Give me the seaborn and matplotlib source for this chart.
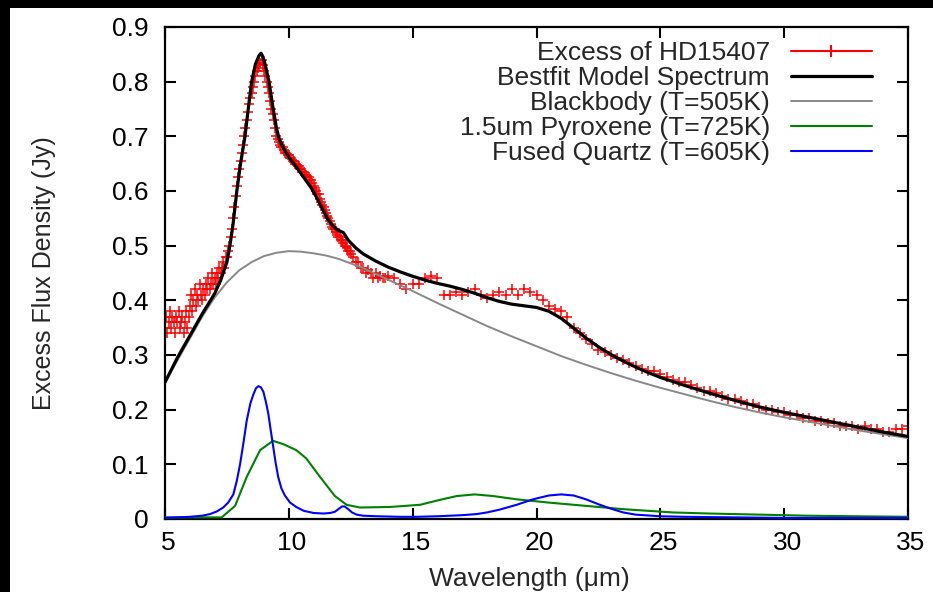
import matplotlib
matplotlib.use("Agg")
import matplotlib.pyplot as plt
from matplotlib.lines import Line2D
from matplotlib.patches import Rectangle
from matplotlib.transforms import ScaledTranslation
import seaborn as sns
import pandas as pd

# ---------------- data ----------------
obs_wl = [5.00, 5.05, 5.10, 5.15, 5.20, 5.25, 5.30, 5.35, 5.40, 5.45, 5.50, 5.55, 5.60, 5.65, 5.70,
          5.75, 5.80, 5.85, 5.90, 5.95, 6.00, 6.05, 6.10, 6.15, 6.20, 6.25, 6.30, 6.35, 6.40, 6.45,
          6.50, 6.55, 6.60, 6.65, 6.70, 6.75, 6.80, 6.85, 6.90, 6.95, 7.00, 7.05, 7.10, 7.15, 7.20,
          7.25, 7.30, 7.35, 7.40, 7.45, 7.50,
          7.6, 7.7, 7.8, 7.9, 8.0, 8.1, 8.2, 8.3, 8.4, 8.5, 8.6, 8.7, 8.8, 8.9, 9.0, 9.1, 9.2, 9.3,
          9.4, 9.5, 9.6, 9.7, 9.8, 9.9, 10.0, 10.1, 10.2, 10.3, 10.4, 10.5, 10.6, 10.7, 10.8, 10.9,
          11.0, 11.1, 11.2, 11.3, 11.4, 11.5, 11.6, 11.7, 11.8, 11.9, 12.0, 12.1, 12.2, 12.3, 12.4,
          12.5, 12.6, 12.7, 12.8, 12.9, 13.0, 13.1, 13.2, 13.3, 13.4, 13.5, 13.6, 13.7, 13.8, 13.9, 14.0,
          14.25, 14.5, 14.75, 15.0, 15.25, 15.5, 15.75, 16.0, 16.25, 16.5, 16.75, 17.0, 17.25, 17.5,
          17.75, 18.0, 18.25, 18.5, 18.75, 19.0, 19.25, 19.5, 19.75, 20.0, 20.25, 20.5, 20.75, 21.0,
          21.25, 21.5, 21.75, 22.0, 22.25, 22.5, 22.75, 23.0, 23.25, 23.5, 23.75, 24.0, 24.25, 24.5,
          24.75, 25.0, 25.25, 25.5, 25.75, 26.0, 26.25, 26.5, 26.75, 27.0, 27.25, 27.5, 27.75, 28.0,
          28.25, 28.5, 28.75, 29.0, 29.25, 29.5, 29.75, 30.0, 30.25, 30.5, 30.75, 31.0, 31.25, 31.5,
          31.75, 32.0, 32.25, 32.5, 32.75, 33.0, 33.25, 33.5, 33.75, 34.0, 34.25, 34.5, 34.75, 35.0]
obs_flux = [0.35, 0.37, 0.34, 0.36, 0.38, 0.35, 0.37, 0.36, 0.34, 0.37, 0.36, 0.38, 0.35, 0.36, 0.37,
            0.34, 0.36, 0.38, 0.35, 0.37, 0.39, 0.41, 0.38, 0.40, 0.42, 0.39, 0.41, 0.40, 0.43, 0.41,
            0.40, 0.42, 0.41, 0.43, 0.42, 0.44, 0.42, 0.43, 0.45, 0.43, 0.44, 0.43, 0.45, 0.44, 0.46,
            0.45, 0.46, 0.47, 0.46, 0.48, 0.48,
            0.50, 0.53, 0.57, 0.61, 0.64, 0.67, 0.70, 0.73, 0.76, 0.78, 0.80, 0.82, 0.83, 0.84, 0.82,
            0.80, 0.78, 0.75, 0.73, 0.70, 0.69, 0.68, 0.675, 0.67, 0.665, 0.66, 0.655, 0.65, 0.645,
            0.64, 0.635, 0.63, 0.625, 0.62, 0.61, 0.60, 0.595, 0.58, 0.57, 0.56, 0.55, 0.54, 0.53,
            0.525, 0.515, 0.51, 0.505, 0.50, 0.49, 0.485, 0.48, 0.47, 0.47, 0.46, 0.46, 0.45, 0.455,
            0.45, 0.44, 0.45, 0.44, 0.445, 0.44, 0.44, 0.445,
            0.44, 0.43, 0.42, 0.43, 0.43, 0.44, 0.445, 0.44, 0.41, 0.41, 0.415, 0.41, 0.415, 0.42,
            0.41, 0.405, 0.41, 0.415, 0.41, 0.42, 0.41, 0.42, 0.415, 0.41, 0.40, 0.39, 0.385, 0.38,
            0.37, 0.35, 0.34, 0.33, 0.32, 0.31, 0.305, 0.30, 0.295, 0.29, 0.285, 0.28, 0.275, 0.27,
            0.27, 0.265, 0.26, 0.255, 0.25, 0.25, 0.245, 0.24, 0.235, 0.235, 0.23, 0.225, 0.22, 0.22,
            0.215, 0.21, 0.21, 0.205, 0.20, 0.20, 0.195, 0.195, 0.19, 0.19, 0.185, 0.185, 0.18, 0.18,
            0.175, 0.175, 0.17, 0.17, 0.17, 0.165, 0.17, 0.165, 0.165, 0.16, 0.16, 0.165, 0.165, 0.17]
# extra (denser) samples of the same spectrum across the emission feature
obs_wl_fine = [7.55, 7.65, 7.75, 7.85, 7.95, 8.05, 8.15, 8.25, 8.35, 8.45, 8.55, 8.65, 8.75, 8.85,
               8.95, 9.05, 9.15, 9.25, 9.35, 9.45, 9.55, 9.65, 9.75, 9.85, 9.95, 10.05, 10.15,
               10.25, 10.35, 10.45, 10.55, 10.65, 10.75, 10.85, 10.95, 11.05, 11.15, 11.25, 11.35,
               11.45, 11.55, 11.65, 11.75, 11.85, 11.95, 12.05, 12.15, 12.25, 12.35, 12.45]
obs_flux_fine = [0.49, 0.515, 0.55, 0.59, 0.625, 0.655, 0.685, 0.715, 0.745, 0.77, 0.79, 0.81,
                 0.825, 0.835, 0.83, 0.81, 0.79, 0.765, 0.74, 0.715, 0.695, 0.685, 0.68, 0.67,
                 0.665, 0.66, 0.655, 0.65, 0.645, 0.64, 0.635, 0.63, 0.625, 0.62, 0.615, 0.605,
                 0.595, 0.585, 0.575, 0.565, 0.555, 0.545, 0.535, 0.53, 0.52, 0.515, 0.51, 0.50,
                 0.495, 0.49]

fit_wl = [5.0, 5.5, 6.0, 6.5, 7.0, 7.25, 7.5, 7.62, 7.75, 7.9, 8.05, 8.23, 8.4, 8.5, 8.65, 8.8,
          8.88, 8.96, 9.05, 9.2, 9.35, 9.5, 9.6, 9.76, 10.0, 10.3, 10.6, 10.9, 11.1, 11.3, 11.55,
          11.8, 12.0, 12.2, 12.4, 12.7, 13.0, 13.5, 14.0, 14.5, 15.0, 15.5, 16.0, 16.5, 17.0, 17.5,
          18.0, 18.5, 19.0, 19.5, 20.0, 20.5, 21.0, 21.5, 22.0, 22.5, 23.0, 23.5, 24.0, 24.5, 25.0,
          26.0, 27.0, 28.0, 29.0, 30.0, 31.0, 32.0, 33.0, 34.0, 35.0]
fit_flux = [0.25, 0.295, 0.335, 0.375, 0.412, 0.437, 0.47, 0.50, 0.54, 0.60, 0.65, 0.70, 0.765,
            0.80, 0.832, 0.848, 0.852, 0.845, 0.83, 0.80, 0.755, 0.715, 0.697, 0.68, 0.662, 0.644,
            0.625, 0.606, 0.59, 0.572, 0.55, 0.535, 0.528, 0.524, 0.51, 0.496, 0.485, 0.472, 0.461,
            0.452, 0.444, 0.437, 0.431, 0.426, 0.42, 0.413, 0.405, 0.398, 0.393, 0.39, 0.387,
            0.38, 0.367, 0.349, 0.331, 0.315, 0.301, 0.289, 0.278, 0.268, 0.259, 0.244, 0.23, 0.217,
            0.205, 0.195, 0.186, 0.177, 0.168, 0.159, 0.151]

bb_wl = [5.0, 5.5, 6.0, 6.5, 7.0, 7.5, 8.0, 8.5, 9.0, 9.5, 10.0, 10.5, 11.0, 11.5, 12.0, 13.0,
         14.0, 15.0, 16.0, 17.0, 18.0, 19.0, 20.0, 21.0, 22.0, 23.0, 24.0, 25.0, 26.0, 27.0, 28.0,
         29.0, 30.0, 31.0, 32.0, 33.0, 34.0, 35.0]
bb_flux = [0.25, 0.29, 0.33, 0.37, 0.405, 0.433, 0.455, 0.47, 0.481, 0.487, 0.49, 0.489, 0.486,
           0.482, 0.476, 0.459, 0.438, 0.417, 0.395, 0.374, 0.353, 0.334, 0.316, 0.298, 0.282,
           0.267, 0.253, 0.24, 0.228, 0.216, 0.205, 0.195, 0.186, 0.178, 0.17, 0.162, 0.155, 0.148]

pyr_wl = [5.0, 7.29, 7.83, 8.3, 8.84, 9.36, 9.77, 10.3, 10.7, 11.26, 11.86, 12.33, 12.87, 14.08,
          15.3, 16.1, 16.78, 17.51, 18.25, 19.2, 19.86, 20.5, 21.5, 22.5, 23.5, 24.5, 25.5, 27.0,
          29.0, 31.0, 33.0, 35.0]
pyr_flux = [0.003, 0.003, 0.024, 0.077, 0.126, 0.143, 0.137, 0.126, 0.111, 0.077, 0.042, 0.026,
            0.021, 0.022, 0.026, 0.035, 0.042, 0.045, 0.042, 0.036, 0.033, 0.030, 0.026, 0.022,
            0.018, 0.015, 0.012, 0.010, 0.008, 0.006, 0.005, 0.004]

qtz_wl = [5.0, 6.0, 6.5, 6.82, 7.1, 7.35, 7.55, 7.76, 7.9, 8.03, 8.17, 8.3, 8.45, 8.57, 8.67, 8.77,
          8.87, 8.97, 9.07, 9.17, 9.27, 9.37, 9.47, 9.57, 9.7, 9.84, 10.05, 10.3, 10.6, 11.0, 11.4,
          11.66, 11.85, 12.0, 12.15, 12.25, 12.4, 12.55, 12.74, 13.0, 13.55, 14.5, 15.16, 16.0, 16.5,
          17.0, 17.58, 18.0, 18.5, 19.2, 19.86, 20.5, 21.0, 21.5, 22.0, 22.5, 23.0, 23.5, 24.0, 25.0,
          26.0, 28.0, 30.0, 35.0]
qtz_flux = [0.002, 0.004, 0.006, 0.009, 0.014, 0.021, 0.03, 0.045, 0.07, 0.10, 0.14, 0.18, 0.212,
            0.228, 0.239, 0.243, 0.241, 0.233, 0.215, 0.193, 0.162, 0.132, 0.102, 0.077, 0.056,
            0.043, 0.03, 0.022, 0.015, 0.011, 0.01, 0.011, 0.013, 0.018, 0.023, 0.023, 0.018, 0.012,
            0.008, 0.006, 0.005, 0.004, 0.004, 0.005, 0.006, 0.007, 0.009, 0.012, 0.017, 0.026,
            0.036, 0.043, 0.045, 0.043, 0.036, 0.027, 0.019, 0.012, 0.008, 0.005, 0.004, 0.003,
            0.002, 0.002]

labels = ["Excess of HD15407", "Bestfit Model Spectrum", "Blackbody (T=505K)",
          "1.5um Pyroxene (T=725K)", "Fused Quartz (T=605K)"]
x_ticks = [5, 10, 15, 20, 25, 30, 35]
y_ticks = [0, 0.1, 0.2, 0.3, 0.4, 0.5, 0.6, 0.7, 0.8, 0.9]
y_tick_labels = ["0", "0.1", "0.2", "0.3", "0.4", "0.5", "0.6", "0.7", "0.8", "0.9"]

# ---------------- style ----------------
sns.set_theme(style="ticks")
plt.rcParams['font.family'] = ['Liberation Sans', 'DejaVu Sans']

fig = plt.figure(figsize=(9.33, 5.92), dpi=100)
fig.patch.set_facecolor("black")
bg = Rectangle((10 / 933, 0), 1 - 10 / 933, 1 - 8 / 592, transform=fig.transFigure,
               facecolor="white", edgecolor="none", zorder=-10)
fig.add_artist(bg)
ax = fig.add_axes([165 / 933, 73 / 592, 743 / 933, 492 / 592])
ax.set_zorder(1)
ax.set_facecolor("white")

df_obs = pd.DataFrame({"wl": obs_wl + obs_wl_fine, "flux": obs_flux + obs_flux_fine})
sns.scatterplot(data=df_obs, x="wl", y="flux", ax=ax, marker="+", color="#ff0000",
                s=45, linewidth=1.1, zorder=2, legend=False)

curves = [
    (fit_wl, fit_flux, "#000000", 2.3),
    (bb_wl, bb_flux, "#888888", 1.4),
    (pyr_wl, pyr_flux, "#008000", 1.5),
    (qtz_wl, qtz_flux, "#0000ff", 1.5),
]
for i, (xw, yf, col, lw) in enumerate(curves):
    sns.lineplot(x=xw, y=yf, ax=ax, color=col, linewidth=lw, estimator=None,
                 sort=False, zorder=3 + (1 if i == 0 else 0), legend=False)

ax.set_xlim(5, 35)
ax.set_ylim(0, 0.9)
ax.set_xticks(x_ticks)
ax.set_xticklabels([str(t) for t in x_ticks])
ax.set_yticks(y_ticks)
ax.set_yticklabels(y_tick_labels)
ax.tick_params(direction="in", top=True, right=True, length=8, width=1.5,
               labelsize=19, colors="black")
ax.tick_params(axis="y", pad=12)
ax.tick_params(axis="x", pad=9)
shift = ScaledTranslation(3 / 100, 0, fig.dpi_scale_trans)
for lab in ax.get_xticklabels():
    lab.set_transform(lab.get_transform() + shift)
for sp in ax.spines.values():
    sp.set_visible(True)
    sp.set_linewidth(1.6)
    sp.set_color("black")

ax.set_xlabel("Wavelength (μm)", fontsize=19, labelpad=8)
ax.xaxis.label.set_x(0.49)
ax.set_ylabel("Excess Flux Density (Jy)", fontsize=18, labelpad=40)

handles = [
    Line2D([], [], color="#ff0000", lw=1.5, marker="|", markersize=9, markeredgewidth=1.5),
    Line2D([], [], color="#000000", lw=2.3),
    Line2D([], [], color="#888888", lw=1.4),
    Line2D([], [], color="#008000", lw=1.5),
    Line2D([], [], color="#0000ff", lw=1.5),
]
leg = ax.legend(handles, labels, loc="upper right", bbox_to_anchor=(0.9515, 0.971),
                frameon=False, markerfirst=False, fontsize=19, handlelength=3.07,
                handletextpad=0.8, labelspacing=0.04, borderpad=0, borderaxespad=0)

fig.savefig("out.png", dpi=100, facecolor=fig.get_facecolor())
